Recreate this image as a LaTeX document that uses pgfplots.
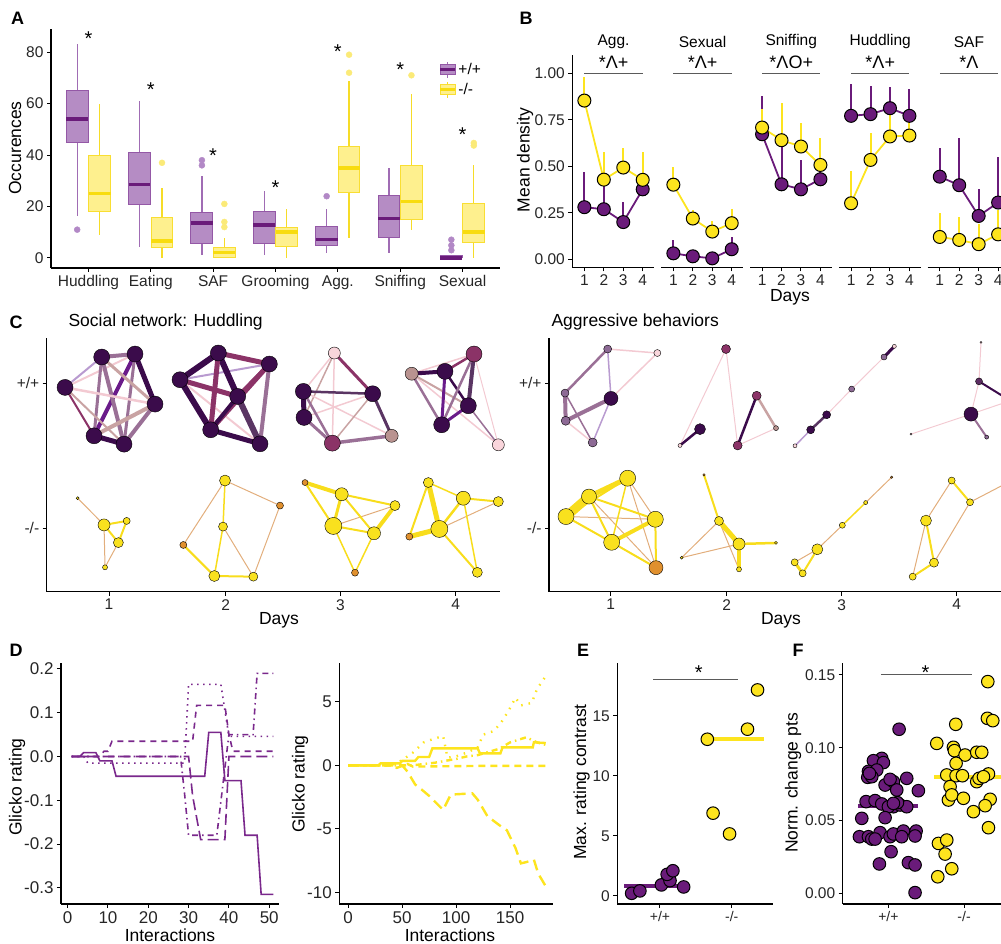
\documentclass[border=0pt]{standalone}
\usepackage{fontspec}
\setmainfont{Liberation Sans}
\usepackage{pgfplots}
\pgfplotsset{compat=1.18}
\usepgfplotslibrary{statistics}

\definecolor{Pc}{RGB}{106,27,122}
\definecolor{Yc}{RGB}{253,228,30}
\definecolor{PboxF}{RGB}{181,140,196}
\definecolor{PboxE}{RGB}{148,88,166}
\definecolor{Pwh}{RGB}{160,108,180}
\definecolor{Pout}{RGB}{178,136,198}
\definecolor{YboxF}{RGB}{254,240,142}
\definecolor{YboxE}{RGB}{249,222,50}
\definecolor{Ymed}{RGB}{248,220,15}
\definecolor{Ywh}{RGB}{246,220,40}
\definecolor{Yout}{RGB}{251,234,120}
\definecolor{Dl}{RGB}{122,40,140}
\definecolor{nDark}{RGB}{59,11,75}
\definecolor{nPlum}{RGB}{139,51,103}
\definecolor{nTan}{RGB}{185,147,144}
\definecolor{nPink}{RGB}{249,213,219}
\definecolor{nMauve}{RGB}{141,106,149}
\definecolor{nDM}{RGB}{92,45,98}
\definecolor{eDark}{RGB}{59,11,75}
\definecolor{ePlum}{RGB}{139,51,103}
\definecolor{eMauve}{RGB}{154,112,150}
\definecolor{eTan}{RGB}{201,163,163}
\definecolor{ePink}{RGB}{243,202,210}
\definecolor{ePurp}{RGB}{106,27,138}
\definecolor{eLav}{RGB}{185,155,208}
\definecolor{eDM}{RGB}{90,53,99}
\definecolor{nY}{RGB}{249,225,30}
\definecolor{nO}{RGB}{224,144,46}
\definecolor{eY}{RGB}{248,221,28}
\definecolor{eT}{RGB}{226,174,124}
\definecolor{Gl}{RGB}{90,90,90}

\newcommand{\tk}{\fontsize{15.5}{18}\selectfont}
\newcommand{\tkD}{\fontsize{17}{20}\selectfont}
\newcommand{\tks}{\fontsize{14}{16}\selectfont}
\newcommand{\lb}{\fontsize{17.5}{20}\selectfont}
\newcommand{\st}{\fontsize{20}{24}\selectfont}
\newcommand{\stB}{\fontsize{18}{20}\selectfont}
\newcommand{\pnl}{\fontsize{18}{20}\selectfont\bfseries}

\tikzset{stn/.style={font=\st, yshift=-4.5pt}}
\pgfplotsset{
 gg/.style={scale only axis, anchor=south west, axis x line*=bottom, axis y line*=left,
   axis line style={line width=1.3pt, black}, tick align=outside,
   major tick length=4pt, tick style={black, line width=1pt},
   tick label style={font=\tk, text=black!85}, clip=false, enlargelimits=false},
 pbx/.style={color=Pout, mark=*, mark size=3pt, mark options={draw=Pout, fill=Pout},
   boxplot/draw direction=y, boxplot/box extend=0.35, boxplot/whisker extend=0,
   boxplot/every box/.style={draw=PboxE, fill=PboxF, line width=1pt},
   boxplot/every median/.style={draw=Pc, line width=3.5pt},
   boxplot/every whisker/.style={draw=Pwh, line width=1.2pt}},
 ybx/.style={color=Yout, mark=*, mark size=3pt, mark options={draw=Yout, fill=Yout},
   boxplot/draw direction=y, boxplot/box extend=0.35, boxplot/whisker extend=0,
   boxplot/every box/.style={draw=YboxE, fill=YboxF, line width=1pt},
   boxplot/every median/.style={draw=Ymed, line width=3.5pt},
   boxplot/every whisker/.style={draw=Ywh, line width=1.2pt}},
 bfac/.style={gg, width=81.7pt, height=212.3pt, xmin=0.38, xmax=4.58, ymin=-0.043, ymax=1.098,
   xtick={1,2,3,4}, xticklabels={1,2,3,4}, ytick={0,0.25,0.5,0.75,1}, yticklabels={0.00,0.25,0.50,0.75,1.00}},
 eb/.style={draw=none, mark=none, forget plot, error bars/y dir=plus, error bars/y explicit,
   error bars/error mark=none, error bars/error bar style={draw=#1, line width=2pt, solid}},
 ln/.style={draw=#1, line width=1.8pt, mark=none},
 pt/.style={only marks, mark=*, mark size=6.5pt, mark options={fill=#1, draw=black, line width=1pt}},
 ept/.style={only marks, mark=*, mark size=6.3pt, mark options={fill=#1, draw=black, line width=1pt}},
}

\newcommand{\bx}[8]{\addplot[#1, forget plot, boxplot prepared={draw position=#2, lower whisker=#3, lower quartile=#4, median=#5, upper quartile=#6, upper whisker=#7}] coordinates {#8};}
\newcommand{\nd}[3]{\addplot[only marks, mark=*, mark size=#3pt, mark options={draw=none, fill=#1}] coordinates {#2};}
\newcommand{\ed}[4]{\addplot[draw=#1, line width=#2pt, mark=none] coordinates {(#3) (#4)};}

\newcommand{\facet}[6]{%
\begin{axis}[bfac, at={(#1pt,676.7pt)}, #4]
\addplot[eb=Pc] coordinates {#5};
\addplot[eb=Yc] coordinates {#6};
\addplot[ln=Pc] coordinates {#5};
\addplot[ln=Yc] coordinates {#6};
\addplot[pt=Pc] coordinates {#5};
\addplot[pt=Yc] coordinates {#6};
\draw[Gl, line width=0.9pt] (axis cs:1,1.0)--(axis cs:4,1.0);
\node[font=\stB] at (axis cs:2.5,1.058) {#3};
\node[font=\tk] at (axis cs:2.5,1.168) {#2};
\end{axis}}

\begin{document}
\begin{tikzpicture}
% ================= A =================
\begin{axis}[gg, at={(51pt,676pt)}, width=449pt, height=239pt,
  xmin=0.4, xmax=7.6, ymin=-3.9, ymax=89,
  xtick={1,2,3,4,5,6,7}, xticklabels={Huddling,Eating,SAF,Grooming,Agg.,Sniffing,Sexual},
  ytick={0,20,40,60,80}, yticklabels={0,20,40,60,80},
  legend style={at={(0.857,0.875)}, anchor=north west, draw=none, fill=none, font=\tk, row sep=3pt},
  legend cell align=left]
\addlegendimage{legend image code/.code={
   \draw[Pwh, line width=1pt] (7.5pt,-8pt)--(7.5pt,8pt);
   \filldraw[fill=PboxF, draw=PboxE, line width=1pt] (0pt,-5pt) rectangle (15pt,5pt);
   \draw[Pc, line width=2.5pt] (0pt,0pt)--(15pt,0pt);}}
\addlegendentry{+/+}
\addlegendimage{legend image code/.code={
   \draw[Ywh, line width=1pt] (7.5pt,-8pt)--(7.5pt,8pt);
   \filldraw[fill=YboxF, draw=YboxE, line width=1pt] (0pt,-5pt) rectangle (15pt,5pt);
   \draw[Ymed, line width=2.5pt] (0pt,0pt)--(15pt,0pt);}}
\addlegendentry{-/-}
\bx{pbx}{0.82}{16.2}{44.7}{54.1}{65.1}{83.1}{(0,11)}
\bx{ybx}{1.18}{9.1}{17.9}{25}{39.7}{59.8}{}
\bx{pbx}{1.82}{4.1}{20.7}{28.5}{41}{61}{}
\bx{ybx}{2.18}{0}{3.9}{6.6}{15.8}{27}{(0,37)}
\bx{pbx}{2.82}{1}{5.7}{13.6}{17.5}{32}{(0,36) (0,38)}
\bx{ybx}{3.18}{0}{0}{2.1}{3.9}{7.9}{(0,12) (0,14) (0,21)}
\bx{pbx}{3.82}{1}{5.7}{12.9}{18}{25.9}{}
\bx{ybx}{4.18}{0}{4.5}{10.1}{11.9}{18.9}{}
\bx{pbx}{4.82}{2.1}{4.9}{7.1}{12.2}{18.9}{(0,24)}
\bx{ybx}{5.18}{7.9}{25.5}{35}{43.5}{68.9}{(0,72) (0,79)}
\bx{pbx}{5.82}{1.9}{8}{15.4}{24.2}{34.8}{}
\bx{ybx}{6.18}{11}{15}{22}{36}{63.7}{(0,71)}
\bx{pbx}{6.82}{0}{0}{0}{1}{1}{(0,3) (0,4.9) (0,7.1)}
\bx{ybx}{7.18}{0}{6.2}{10}{21}{36}{(0,43.7) (0,44.7)}
\node[stn] at (axis cs:1,87) {*};
\node[stn] at (axis cs:2,67) {*};
\node[stn] at (axis cs:3,41.7) {*};
\node[stn] at (axis cs:4,28.9) {*};
\node[stn] at (axis cs:5,81.8) {*};
\node[stn] at (axis cs:6,74.8) {*};
\node[stn] at (axis cs:7,49.8) {*};
\end{axis}

% ================= B =================
\facet{572.3}{Agg.}{*Λ+}{}
 {(1,0.28) += (0,0.19) (2,0.269) += (0,0.151) (3,0.2) += (0,0.106) (4,0.376) += (0,0.158)}
 {(1,0.853) += (0,0.127) (2,0.428) += (0,0.147) (3,0.493) += (0,0.107) (4,0.427) += (0,0.15)}
\facet{661.3}{Sexual}{*Λ+}{axis y line=none}
 {(1,0.032) += (0,0.072) (2,0.016) += (0,0) (3,0.005) += (0,0) (4,0.054) += (0,0.064)}
 {(1,0.401) += (0,0.097) (2,0.219) += (0,0.046) (3,0.149) += (0,0.057) (4,0.194) += (0,0.076)}
\facet{750}{Sniffing}{*ΛO+}{axis y line=none}
 {(1,0.672) += (0,0.206) (2,0.403) += (0,0.237) (3,0.376) += (0,0.158) (4,0.43) += (0,0.17)}
 {(1,0.708) += (0,0.102) (2,0.64) += (0,0.199) (3,0.606) += (0,0.125) (4,0.507) += (0,0.147)}
\facet{839}{Huddling}{*Λ+}{axis y line=none}
 {(1,0.771) += (0,0.17) (2,0.78) += (0,0.152) (3,0.812) += (0,0.113) (4,0.771) += (0,0.143)}
 {(1,0.301) += (0,0.176) (2,0.534) += (0,0.143) (3,0.66) += (0,0.15) (4,0.665) += (0,0.106)}
\facet{927.7}{SAF}{*Λ}{axis y line=none}
 {(1,0.444) += (0,0.156) (2,0.398) += (0,0.256) (3,0.233) += (0,0.147) (4,0.305) += (0,0.247)}
 {(1,0.12) += (0,0.127) (2,0.104) += (0,0.122) (3,0.081) += (0,0.109) (4,0.134) += (0,0.131)}

% ================= C left: huddling =================
\begin{axis}[gg, clip=true, at={(46.7pt,352.3pt)}, width=453.3pt, height=253.7pt,
  xmin=140, xmax=1500, ymin=-875, ymax=-115,
  xtick={327,677,1021,1367}, xticklabels={1,2,3,4},
  ytick={-685,-250}, yticklabels={-/-,+/+}]
% day1 +/+
\ed{eLav}{2}{195,-263}{305,-172}
\ed{ePink}{2}{195,-263}{405,-163}
\ed{eMauve}{4}{305,-172}{405,-163}
\ed{eDark}{5}{405,-163}{465,-313}
\ed{ePurp}{4}{405,-163}{282,-408}
\ed{eMauve}{3}{405,-163}{372,-433}
\ed{eMauve}{3}{305,-172}{282,-408}
\ed{eMauve}{4}{305,-172}{372,-433}
\ed{eTan}{3}{305,-172}{465,-313}
\ed{ePink}{2.5}{195,-263}{465,-313}
\ed{ePlum}{2}{195,-263}{282,-408}
\ed{eTan}{2}{195,-263}{372,-433}
\ed{eTan}{4}{465,-313}{282,-408}
\ed{eMauve}{4}{465,-313}{372,-433}
\ed{eDark}{5}{282,-408}{372,-433}
\nd{nDark}{(305,-172) (405,-163) (195,-263) (465,-313) (282,-408) (372,-433)}{8}
% day2 +/+
\ed{eLav}{2}{540,-240}{808,-193}
\ed{ePink}{2}{540,-240}{780,-432}
\ed{ePink}{2}{655,-160}{780,-432}
\ed{eDark}{6}{540,-240}{655,-160}
\ed{ePlum}{5}{655,-160}{808,-193}
\ed{ePlum}{5}{540,-240}{713,-290}
\ed{eDark}{6}{540,-240}{632,-390}
\ed{eDark}{6}{655,-160}{713,-290}
\ed{ePlum}{5}{655,-160}{632,-390}
\ed{ePlum}{4}{808,-193}{713,-290}
\ed{ePlum}{5}{808,-193}{632,-390}
\ed{eMauve}{4}{808,-193}{780,-432}
\ed{eDM}{6}{713,-290}{780,-432}
\ed{eDark}{4}{713,-290}{632,-390}
\ed{eDark}{5}{632,-390}{780,-432}
\nd{nDark}{(655,-160) (808,-193) (540,-240) (713,-290) (632,-390) (780,-432)}{8}
% day3 +/+
\ed{ePink}{1.5}{1003,-160}{910,-275}
\ed{ePink}{1.5}{1003,-160}{997,-430}
\ed{eTan}{1.5}{1003,-160}{912,-353}
\ed{ePink}{1.5}{910,-275}{1175,-408}
\ed{ePink}{1.5}{912,-353}{1118,-282}
\ed{eTan}{1.5}{1118,-282}{997,-430}
\ed{ePlum}{3}{1003,-160}{1118,-282}
\ed{eDark}{5}{910,-275}{912,-353}
\ed{eDM}{2.5}{910,-275}{1118,-282}
\ed{eMauve}{2.5}{910,-275}{997,-430}
\ed{eMauve}{3}{912,-353}{997,-430}
\ed{eDM}{3}{1118,-282}{1175,-408}
\ed{eMauve}{3.5}{997,-430}{1175,-408}
\nd{nPink}{(1003,-160)}{6}
\nd{nDark}{(910,-275) (1118,-282) (912,-353)}{8}
\nd{nPlum}{(997,-430)}{8}
\nd{nTan}{(1175,-408)}{6.5}
% day4 +/+
\ed{ePink}{1.5}{1235,-222}{1422,-163}
\ed{ePink}{1.5}{1235,-222}{1495,-435}
\ed{ePink}{1}{1422,-163}{1495,-435}
\ed{eTan}{2}{1235,-222}{1405,-318}
\ed{eMauve}{2.5}{1235,-222}{1325,-375}
\ed{eMauve}{1.5}{1405,-318}{1495,-435}
\ed{eDark}{4}{1235,-222}{1335,-215}
\ed{ePlum}{2.5}{1335,-215}{1422,-163}
\ed{ePurp}{3}{1335,-215}{1325,-375}
\ed{eDark}{2.5}{1335,-215}{1405,-318}
\ed{eDM}{4}{1422,-163}{1405,-318}
\ed{eMauve}{2.5}{1422,-163}{1325,-375}
\ed{ePurp}{3}{1405,-318}{1325,-375}
\nd{nPlum}{(1422,-163)}{8}
\nd{nTan}{(1235,-222)}{6.5}
\nd{nDark}{(1335,-215) (1405,-318) (1325,-375)}{8}
\nd{nPink}{(1495,-435)}{6}
% day1 -/-
\ed{eT}{1}{233,-595}{312,-675}
\ed{eT}{1}{312,-675}{315,-802}
\ed{eT}{1}{355,-728}{315,-802}
\ed{eY}{2}{312,-675}{380,-663}
\ed{eY}{2}{312,-675}{355,-728}
\ed{eY}{2}{380,-663}{355,-728}
\nd{nY}{(233,-595)}{1.5}
\nd{nY}{(312,-675)}{6}
\nd{nY}{(380,-663)}{3.5}
\nd{nY}{(355,-728)}{5}
\nd{nY}{(315,-802)}{2.5}
% day2 -/-
\ed{eT}{1}{675,-542}{840,-617}
\ed{eT}{1}{669,-680}{760,-830}
\ed{eT}{1}{840,-617}{760,-830}
\ed{eT}{1}{550,-735}{675,-542}
\ed{eY}{1.5}{675,-542}{669,-680}
\ed{eY}{1.5}{669,-680}{643,-828}
\ed{eY}{2}{550,-735}{643,-828}
\ed{eY}{2}{643,-828}{760,-830}
\nd{nY}{(675,-542) (643,-828)}{5.5}
\nd{nY}{(669,-680) (760,-830)}{4.5}
\nd{nO}{(840,-617) (550,-735)}{3.5}
% day3 -/-
\ed{eT}{1}{1000,-678}{1185,-617}
\ed{eY}{4}{915,-548}{1025,-583}
\ed{eY}{2}{915,-548}{1000,-678}
\ed{eY}{2}{1025,-583}{1185,-617}
\ed{eY}{3}{1025,-583}{1000,-678}
\ed{eY}{2}{1025,-583}{1122,-700}
\ed{eY}{2}{1000,-678}{1122,-700}
\ed{eY}{4}{1185,-617}{1122,-700}
\ed{eY}{1.5}{1122,-700}{1065,-818}
\ed{eY}{1.5}{1000,-678}{1065,-818}
\nd{nO}{(915,-548)}{3}
\nd{nY}{(1025,-583) (1122,-700)}{6.5}
\nd{nY}{(1185,-617)}{5}
\nd{nY}{(1000,-678)}{8.5}
\nd{nO}{(1065,-818)}{3.5}
% day4 -/-
\ed{eT}{1}{1318,-687}{1495,-605}
\ed{eY}{5}{1285,-548}{1318,-687}
\ed{eY}{2}{1285,-548}{1228,-710}
\ed{eY}{1.5}{1285,-548}{1390,-595}
\ed{eY}{2.5}{1390,-595}{1318,-687}
\ed{eY}{2}{1390,-595}{1495,-605}
\ed{eY}{1.5}{1390,-595}{1432,-817}
\ed{eY}{5}{1228,-710}{1318,-687}
\ed{eY}{2}{1318,-687}{1432,-817}
\nd{nY}{(1285,-548) (1495,-605) (1432,-817)}{5}
\nd{nY}{(1390,-595)}{7}
\nd{nY}{(1318,-687)}{8.5}
\nd{nO}{(1228,-710)}{3.5}
\end{axis}

% ================= C right: aggressive =================
\begin{axis}[gg, clip=true, at={(549pt,352.3pt)}, width=452pt, height=253.7pt,
  xmin=147, xmax=1503, ymin=-875, ymax=-115,
  xtick={332,680,1025,1370}, xticklabels={1,2,3,4},
  ytick={-685,-250}, yticklabels={-/-,+/+}]
% day1 +/+
\ed{ePink}{1.5}{323,-148}{472,-160}
\ed{ePink}{1.5}{333,-296}{472,-160}
\ed{ePink}{1.5}{197,-363}{278,-428}
\ed{eLav}{1.5}{323,-148}{333,-296}
\ed{eLav}{1.5}{333,-296}{278,-428}
\ed{eMauve}{1.5}{195,-280}{278,-428}
\ed{eMauve}{2.5}{323,-148}{195,-280}
\ed{eMauve}{4}{195,-280}{197,-363}
\ed{eMauve}{4}{197,-363}{333,-296}
\nd{nMauve}{(323,-148) (195,-280)}{4}
\nd{nMauve}{(197,-363) (278,-428)}{4.5}
\nd{nPink}{(472,-160)}{3.5}
\nd{nDark}{(333,-296)}{7}
% day2 +/+
\ed{ePink}{1}{678,-148}{540,-437}
\ed{ePink}{1}{678,-148}{713,-437}
\ed{ePink}{1}{713,-437}{828,-385}
\ed{eDark}{2.5}{770,-288}{713,-437}
\ed{eTan}{2.5}{770,-288}{828,-385}
\ed{eDark}{2.5}{600,-388}{540,-437}
\nd{nPlum}{(678,-148) (770,-288) (713,-437)}{4.5}
\nd{nTan}{(828,-385)}{2.5}
\nd{nDark}{(600,-388)}{5.5}
\nd{nPink}{(540,-437)}{2}
% day3 +/+
\ed{eDark}{3}{1183,-140}{1152,-172}
\ed{ePink}{1}{1152,-172}{1055,-268}
\ed{ePink}{1}{1055,-268}{980,-345}
\ed{eDM}{2.5}{980,-345}{932,-390}
\ed{eLav}{1.5}{932,-390}{885,-438}
\nd{nPink}{(1183,-140) (885,-438)}{2}
\nd{nMauve}{(1152,-172) (1055,-268)}{3}
\nd{nDark}{(980,-345) (932,-390)}{4}
% day4 +/+
\ed{ePink}{1}{1443,-128}{1437,-245}
\ed{ePink}{1}{1437,-245}{1413,-343}
\ed{ePink}{1}{1233,-403}{1413,-343}
\ed{ePink}{1}{1413,-343}{1510,-310}
\ed{eMauve}{2}{1413,-343}{1460,-412}
\ed{eDark}{2}{1437,-245}{1510,-290}
\nd{nPink}{(1443,-128) (1233,-403)}{1}
\nd{nDM}{(1437,-245)}{3.5}
\nd{nDark}{(1413,-343)}{7}
\nd{nMauve}{(1460,-412)}{2}
% day1 -/-
\ed{eT}{1}{198,-650}{466,-658}
\ed{eT}{1}{267,-590}{468,-803}
\ed{eT}{1}{383,-535}{466,-658}
\ed{eT}{1}{383,-535}{468,-803}
\ed{eY}{9}{198,-650}{267,-590}
\ed{eY}{5}{267,-590}{383,-535}
\ed{eY}{2}{198,-650}{383,-535}
\ed{eY}{2}{198,-650}{335,-727}
\ed{eY}{2}{267,-590}{466,-658}
\ed{eY}{2}{267,-590}{335,-727}
\ed{eY}{1.5}{383,-535}{335,-727}
\ed{eY}{4}{335,-727}{466,-658}
\ed{eY}{2}{466,-658}{468,-803}
\ed{eY}{2}{335,-727}{468,-803}
\nd{nY}{(383,-535) (198,-650) (466,-658) (335,-727)}{8}
\nd{nY}{(267,-590)}{7.5}
\nd{nO}{(468,-803)}{7}
% day2 -/-
\ed{eT}{1}{545,-773}{657,-663}
\ed{eT}{1}{545,-773}{717,-732}
\ed{eT}{1}{657,-663}{717,-808}
\ed{eY}{2}{612,-525}{657,-663}
\ed{eY}{5}{657,-663}{717,-732}
\ed{eY}{2.5}{717,-732}{828,-729}
\ed{eY}{4}{717,-732}{717,-808}
\nd{nO}{(612,-525)}{1.2}
\nd{nY}{(657,-663)}{4.5}
\nd{nY}{(717,-732)}{6}
\nd{nY}{(828,-729) (545,-773)}{1.5}
\nd{nY}{(717,-808)}{2.5}
% day3 -/-
\ed{eT}{1}{1175,-532}{1097,-608}
\ed{eY}{1.5}{1097,-608}{1027,-676}
\ed{eT}{1}{1027,-676}{952,-748}
\ed{eT}{1}{952,-748}{884,-787}
\ed{eY}{3}{884,-787}{908,-820}
\ed{eY}{2}{908,-820}{952,-748}
\nd{nO}{(1175,-532)}{1.2}
\nd{nY}{(1097,-608)}{2}
\nd{nY}{(1027,-676)}{3}
\nd{nY}{(952,-748)}{5.5}
\nd{nY}{(884,-787) (908,-820)}{3.5}
% day4 -/-
\ed{eT}{1}{1355,-542}{1278,-662}
\ed{eT}{1}{1278,-662}{1238,-830}
\ed{eT}{1}{1302,-788}{1410,-607}
\ed{eT}{1}{1410,-607}{1510,-555}
\ed{eY}{2}{1355,-542}{1410,-607}
\ed{eY}{2}{1278,-662}{1302,-788}
\ed{eY}{2}{1238,-830}{1302,-788}
\nd{nY}{(1355,-542) (1410,-607) (1238,-830)}{3.5}
\nd{nY}{(1278,-662)}{5.5}
\nd{nY}{(1302,-788)}{4.5}
\end{axis}

% ================= D left =================
\begin{axis}[gg, at={(61pt,40pt)}, width=218.3pt, height=240.7pt,
  xmin=-1.65, xmax=52.5, ymin=-0.337, ymax=0.213,
  xtick={0,10,20,30,40,50}, xticklabels={0,10,20,30,40,50},
  ytick={-0.3,-0.2,-0.1,0,0.1,0.2}, yticklabels={-0.3,-0.2,-0.1,0.0,0.1,0.2},
  tick label style={font=\tkD}]
\addplot[Dl, line width=1.6pt, dash pattern=on 11pt off 5pt] coordinates {(1,0) (30,0) (31,-0.09) (33,-0.19) (39,-0.19) (40,0) (51,0)};
\addplot[Dl, line width=1.6pt, dash pattern=on 1.5pt off 4pt on 6pt off 4pt] coordinates {(1,0) (28,0) (29,-0.085) (30,-0.18) (37,-0.18) (40,0.05) (46,0.05) (47,0.19) (51,0.19)};
\addplot[Dl, line width=1.6pt, dash pattern=on 1.5pt off 4.5pt] coordinates {(1,0) (4,0) (5,-0.015) (29,-0.015) (30,0.165) (38,0.165) (40,0.046) (51,0.046)};
\addplot[Dl, line width=1.6pt, dash pattern=on 6pt off 5pt] coordinates {(1,0) (8,0) (9,0.012) (10,0.012) (11,0.035) (31,0.035) (32,0.117) (39,0.117) (40,0.05) (41,0.012) (51,0.012)};
\addplot[Dl, line width=1.6pt] coordinates {(1,0) (3,0) (4,0.009) (7,0.009) (8,-0.01) (11,-0.01) (12,-0.045) (34,-0.045) (35,0.055) (38,0.055) (39,-0.055) (43,-0.055) (44,-0.18) (47,-0.18) (48,-0.315) (51,-0.315)};
\end{axis}

% ================= D right =================
\begin{axis}[gg, at={(339.3pt,40pt)}, width=214pt, height=240.7pt,
  xmin=-8.2, xmax=190, ymin=-10.89, ymax=8.01,
  xtick={0,50,100,150}, xticklabels={0,50,100,150},
  ytick={-10,-5,0,5}, yticklabels={-10,-5,0,5},
  tick label style={font=\tkD}]
\addplot[Yc, line width=2.4pt, dash pattern=on 1.5pt off 6pt] coordinates {(0,0) (40,0) (50,0.4) (60,1.0) (70,1.8) (80,2.1) (88,2.3) (92,0.6) (100,0.7) (110,1.0) (120,1.4) (125,2.4) (135,2.7) (142,3.4) (148,4.2) (155,5.3) (160,4.7) (170,4.9) (175,6.0) (183,7.0)};
\addplot[Yc, line width=2.4pt, dash pattern=on 1.5pt off 4pt on 6pt off 4pt] coordinates {(0,0) (60,0) (80,0.2) (100,0.5) (110,0.7) (120,0.8) (140,1.3) (150,1.8) (165,2.2) (175,1.8) (183,1.6)};
\addplot[Yc, line width=2.4pt, dash pattern=on 7pt off 5pt] coordinates {(0,0) (40,0) (45,-0.2) (55,0.1) (60,-0.1) (120,-0.05) (183,-0.05)};
\addplot[Yc, line width=2.4pt, dash pattern=on 11pt off 6pt] coordinates {(0,0) (50,0) (55,-0.5) (62,-1.5) (68,-1.9) (75,-2.4) (88,-3.5) (95,-2.3) (115,-2.2) (120,-2.7) (129,-4.0) (140,-4.7) (147,-5.1) (155,-6.5) (160,-7.7) (165,-7.6) (172,-7.4) (176,-8.5) (183,-9.5)};
\addplot[Yc, line width=2.4pt] coordinates {(0,0) (28,0) (30,0.15) (48,0.15) (50,0.35) (62,0.35) (65,0.65) (75,0.65) (78,1.33) (120,1.33) (122,0.94) (141,0.94) (143,1.41) (171,1.41) (172,1.8) (183,1.75)};
\end{axis}

% ================= E =================
\begin{axis}[gg, at={(617.3pt,40pt)}, width=156pt, height=240.7pt,
  xmin=0.405, xmax=2.58, ymin=-0.67, ymax=19.39,
  xtick={1,2}, xticklabels={+/+,-/-}, ytick={0,5,10,15}, yticklabels={0,5,10,15},
  xticklabel style={font=\tks}]
\addplot[Pc, line width=4pt] coordinates {(0.502,0.83) (1.256,0.83)};
\addplot[Yc, line width=4pt] coordinates {(1.572,13.08) (2.456,13.08)};
\addplot[ept=Pc] coordinates {(0.605,0.22) (0.72,0.42) (1.02,0.92) (1.14,1.28) (1.1,1.8) (1.18,2.1) (1.33,0.75)};
\addplot[ept=Yc] coordinates {(1.66,13.06) (1.74,6.9) (1.97,5.17) (2.22,13.9) (2.36,17.17)};
\draw[Gl, line width=0.9pt] (axis cs:0.907,18.06)--(axis cs:2.09,18.06);
\node[stn] at (axis cs:1.54,18.97) {*};
\end{axis}

% ================= F =================
\begin{axis}[gg, at={(842.7pt,40pt)}, width=166.8pt, height=240.7pt,
  xmin=0.396, xmax=2.6, ymin=-0.0073, ymax=0.158,
  xtick={1,2}, xticklabels={+/+,-/-}, ytick={0,0.05,0.1,0.15}, yticklabels={0.00,0.05,0.10,0.15},
  xticklabel style={font=\tks}]
\addplot[Pc, line width=4pt] coordinates {(0.595,0.0602) (1.396,0.0602)};
\addplot[Yc, line width=4pt] coordinates {(1.604,0.0801) (2.6,0.0801)};
\addplot[ept=Pc] coordinates {(1.141,0.1127) (0.912,0.0927) (0.802,0.0911) (0.934,0.0898) (0.736,0.0838) (0.846,0.0847) (0.727,0.0797) (0.78,0.0801) (0.749,0.0824) (0.956,0.0744) (1.066,0.0767) (1.242,0.079) (1.11,0.071) (1.396,0.0705) (1.022,0.0783) (0.705,0.063) (0.824,0.0637) (0.912,0.0614) (1.066,0.0595) (1.154,0.0607) (1.242,0.0595) (1.0,0.0595) (1.119,0.0623) (1.066,0.0618) (0.648,0.0515) (0.956,0.052) (0.617,0.0389) (0.736,0.0389) (0.78,0.0373) (0.89,0.0417) (1.022,0.0389) (1.066,0.0408) (1.198,0.0428) (1.366,0.0428) (1.352,0.0394) (0.824,0.0373) (1.176,0.0389) (1.035,0.0286) (0.881,0.0202) (1.264,0.0211) (1.352,0.0195) (1.352,0.0005)};
\addplot[ept=Yc] coordinates {(2.313,0.1454) (1.89,0.1161) (2.308,0.1202) (2.379,0.1186) (1.639,0.103) (1.859,0.1003) (1.872,0.098) (2.013,0.095) (2.167,0.0969) (2.233,0.0969) (1.894,0.0893) (1.771,0.0813) (1.894,0.0808) (1.978,0.0808) (2.167,0.0767) (2.198,0.079) (2.322,0.082) (2.256,0.0801) (1.815,0.0733) (1.793,0.0641) (1.837,0.0676) (1.991,0.0653) (2.344,0.0646) (2.278,0.0602) (2.123,0.0561) (2.322,0.0451) (1.661,0.0343) (1.771,0.0366) (1.749,0.027) (1.837,0.0169) (1.652,0.0114)};
\draw[Gl, line width=0.9pt] (axis cs:0.9,0.1504)--(axis cs:2.1,0.1504);
\node[stn] at (axis cs:1.49,0.1546) {*};
\end{axis}

% ================= labels =================
\node[font=\pnl] at (17.5pt,926pt) {A};
\node[font=\pnl] at (526pt,926pt) {B};
\node[font=\pnl] at (16pt,622pt) {C};
\node[font=\pnl] at (16pt,294pt) {D};
\node[font=\pnl] at (583pt,294pt) {E};
\node[font=\pnl] at (798pt,294pt) {F};
\node[font=\lb, rotate=90] at (15pt,796pt) {Occurences};
\node[font=\lb, rotate=90] at (525pt,784pt) {Mean density};
\node[font=\lb] at (790pt,647pt) {Days};
\node[font=\lb, anchor=west] at (65pt,622pt) {Social network: Huddling};
\node[font=\lb, anchor=west] at (548pt,622pt) {Aggressive behaviors};
\node[font=\lb] at (279pt,324pt) {Days};
\node[font=\lb] at (781pt,324pt) {Days};
\node[font=\lb, rotate=90] at (17pt,157pt) {Glicko rating};
\node[font=\lb, rotate=90] at (300pt,160pt) {Glicko rating};
\node[font=\lb] at (170pt,9pt) {Interactions};
\node[font=\lb] at (450pt,9pt) {Interactions};
\node[font=\lb, rotate=90] at (581.5pt,162pt) {Max. rating contrast};
\node[font=\lb, rotate=90] at (793pt,161pt) {Norm. change pts};

\pgfresetboundingbox
\path[use as bounding box] (0pt,0pt) rectangle (1001pt,944pt);
\end{tikzpicture}
\end{document}
